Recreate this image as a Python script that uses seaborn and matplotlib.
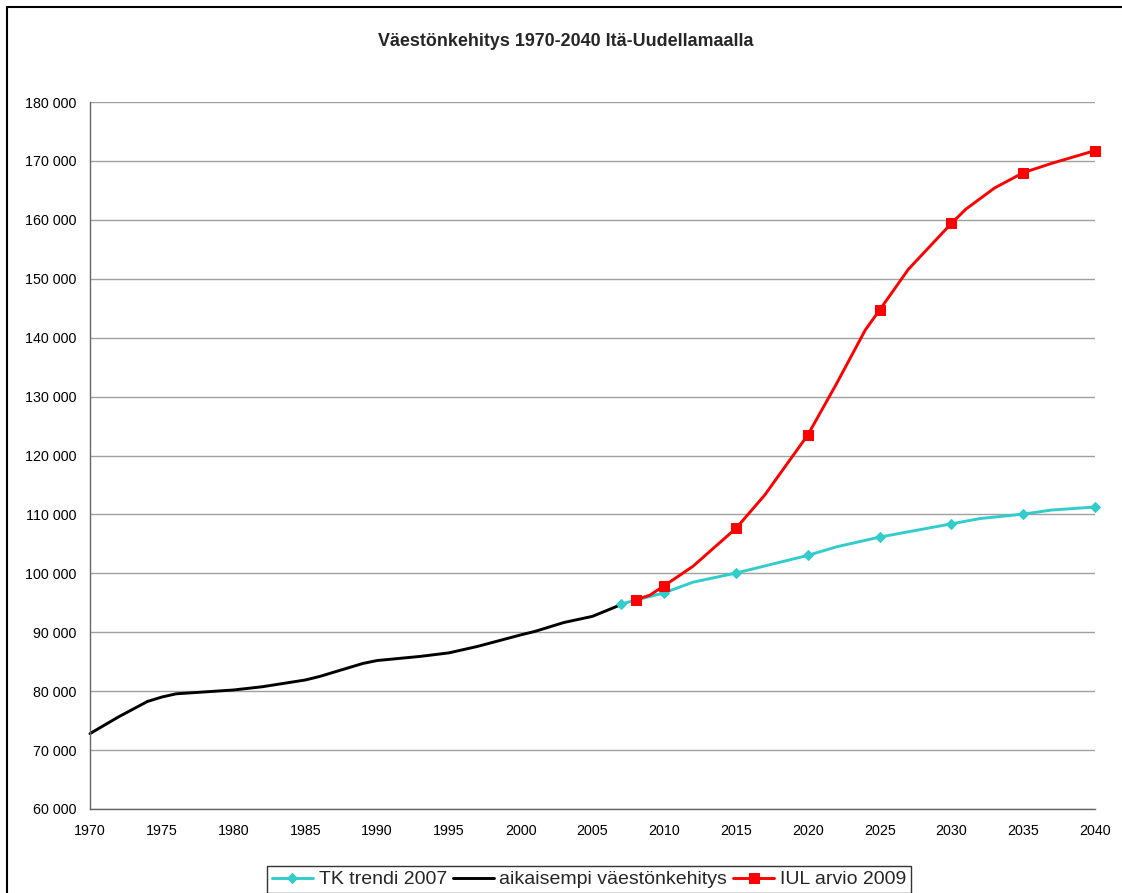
import numpy as np
import pandas as pd
import matplotlib
matplotlib.use("Agg")
import matplotlib.pyplot as plt
import matplotlib.ticker as mticker
from matplotlib.patches import Rectangle
import seaborn as sns

# ===========================
# DATA
# ===========================

hist_years = [1970, 1972, 1974, 1975, 1976, 1980, 1982, 1985, 1986, 1989,
              1990, 1993, 1995, 1997, 2000, 2001, 2003, 2005, 2007]
hist_pop = [72800, 75650, 78250, 79000, 79550, 80200, 80750, 81900, 82500, 84700,
            85200, 85900, 86500, 87600, 89550, 90150, 91650, 92700, 94700]

tk_years = [2007, 2010, 2012, 2015, 2020, 2022, 2025, 2030, 2032, 2035, 2037, 2040]
tk_pop = [94800, 96700, 98500, 100050, 103050, 104500, 106150, 108400, 109300,
          110050, 110750, 111250]
tk_marker_years = [2007, 2010, 2015, 2020, 2025, 2030, 2035, 2040]

iul_years = [2008, 2009, 2010, 2012, 2015, 2017, 2020, 2022, 2024, 2025, 2027,
             2030, 2031, 2033, 2035, 2037, 2040]
iul_pop = [95500, 96300, 97900, 101200, 107650, 113300, 123500, 132200, 141300,
           144700, 151600, 159400, 161800, 165400, 168000, 169600, 171750]
iul_marker_years = [2008, 2010, 2015, 2020, 2025, 2030, 2035, 2040]

x_ticks = list(range(1970, 2041, 5))
y_ticks = list(range(60000, 180001, 10000))

TITLE = "Väestönkehitys 1970-2040 Itä-Uudellamaalla"

# ===========================
# STYLE
# ===========================

sns.set_style("white")
plt.rcParams["font.family"] = ["Liberation Sans", "DejaVu Sans"]

fig = plt.figure(figsize=(11.22, 8.93), dpi=100)
ax = fig.add_axes([90 / 1122, 1 - 809 / 893, 1005 / 1122, 707 / 893])

# ===========================
# LINES
# ===========================

tk_df = pd.DataFrame({"year": tk_years, "pop": tk_pop})
hist_df = pd.DataFrame({"year": hist_years, "pop": hist_pop})
iul_df = pd.DataFrame({"year": iul_years, "pop": iul_pop})

sns.lineplot(
    data=tk_df, x="year", y="pop",
    color="#33CCCC", linewidth=2.1,
    marker="D", markersize=5.5, markeredgecolor="#33CCCC",
    markevery=[tk_years.index(y) for y in tk_marker_years],
    label="TK trendi 2007", ax=ax, clip_on=False
)

sns.lineplot(
    data=hist_df, x="year", y="pop",
    color="black", linewidth=2.1,
    label="aikaisempi väestönkehitys", ax=ax, clip_on=False
)

sns.lineplot(
    data=iul_df, x="year", y="pop",
    color="#FF0000", linewidth=2.1,
    marker="s", markersize=6.5, markeredgecolor="#FF0000",
    markevery=[iul_years.index(y) for y in iul_marker_years],
    label="IUL arvio 2009", ax=ax, clip_on=False
)

# put history under the projections' markers
ax.lines[1].set_zorder(2)
ax.lines[0].set_zorder(3)
ax.lines[2].set_zorder(4)

# ===========================
# AXES
# ===========================

ax.set_xlim(1970, 2040)
ax.set_ylim(60000, 180000)
ax.set_xticks(x_ticks)
ax.set_yticks(y_ticks)
ax.yaxis.set_major_formatter(
    mticker.FuncFormatter(lambda v, p: f"{int(v):,}".replace(",", " "))
)
ax.set_xlabel("")
ax.set_ylabel("")

ax.grid(axis="y", color="#a0a0a0", linewidth=1)
ax.grid(axis="x", visible=False)
ax.set_axisbelow(True)

for side in ["top", "right"]:
    ax.spines[side].set_visible(False)
for side in ["left", "bottom"]:
    ax.spines[side].set_color("#666666")
    ax.spines[side].set_linewidth(1)

ax.tick_params(axis="both", which="major", direction="out", length=4,
               width=1, color="#666666", labelsize=10.3, labelcolor="black")
ax.tick_params(axis="y", pad=6)
ax.tick_params(axis="x", pad=7)

# ===========================
# TITLE, LEGEND, BORDER
# ===========================

fig.text(566 / 1122, 1 - 41 / 893, TITLE, ha="center", va="center",
         fontsize=12.9, fontweight="bold")

ax.get_legend().remove()
handles, labels = ax.get_legend_handles_labels()
leg = fig.legend(
    handles, labels,
    loc="upper center", bbox_to_anchor=(589 / 1122, 1 - 866 / 893),
    ncol=3, fontsize=14, frameon=True, fancybox=False,
    handlelength=2.1, handletextpad=0.3, columnspacing=0.3,
    borderpad=0.25, borderaxespad=0
)
leg.get_frame().set_edgecolor("black")
leg.get_frame().set_linewidth(1)

fig.patches.append(Rectangle(
    (7 / 1122, -0.05), 1.1, 1.05 - 7.5 / 893,
    transform=fig.transFigure, fill=False, edgecolor="black", linewidth=1.5
))

plt.savefig("out.png", dpi=100)
